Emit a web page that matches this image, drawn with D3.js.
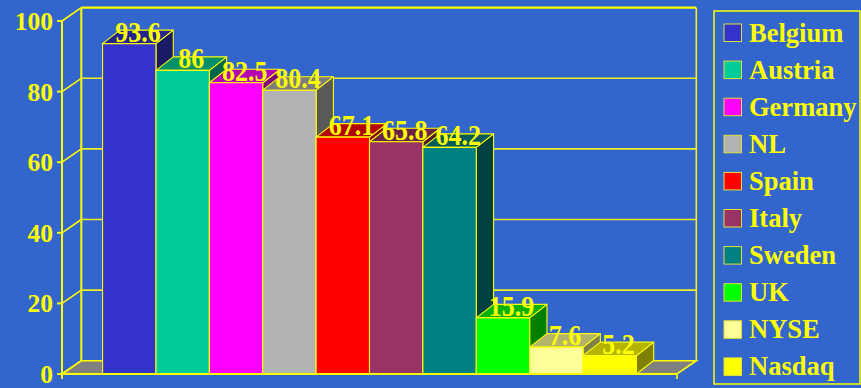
<!DOCTYPE html>
<html><head><meta charset="utf-8">
<script src="https://cdn.jsdelivr.net/npm/d3@7"></script>
<style>html,body{margin:0;padding:0;background:#3366CC;}svg{display:block;}</style>
</head><body>
<svg id="chart" width="861" height="388"></svg>
<script>
const categories = ["Belgium","Austria","Germany","NL","Spain","Italy","Sweden","UK","NYSE","Nasdaq"];
const values = [93.6, 86, 82.5, 80.4, 67.1, 65.8, 64.2, 15.9, 7.6, 5.2];
const colors = ["#3333CC","#00CC99","#FF00FF","#B2B2B2","#FF0000","#993366","#008080","#00FF00","#FFFF99","#FFFF00"];
const yTicks = [0, 20, 40, 60, 80, 100];

const W = 861, H = 388;
const YEL = "#FFFF00", GRID = "#F0F020";
const FONT = "'Liberation Serif','Times New Roman',serif";
const svg = d3.select("#chart");
svg.append("rect").attr("width", W).attr("height", H).attr("fill", "#3366CC");

const x0 = 62, x1 = 677;
const DX = 19.3, DY = -13.3;     // wall depth
const BDX = 17.3, BDY = -13.5;   // bar depth
const y = d3.scaleLinear().domain([0, 100]).range([374, 21]);
const x = d3.scaleBand().domain(categories).range([x0, x1]).paddingInner(0).paddingOuter(0.76);
const y0 = y(0);

const g = svg.append("g");
// floor
g.append("polygon")
  .attr("points", [[x0, y0], [x0 + DX, y0 + DY], [x1 + DX, y0 + DY], [x1, y0]].map(p => p.join(",")).join(" "))
  .attr("fill", "#808080").attr("stroke", YEL).attr("stroke-width", 1.6);

// back wall gridlines and side-wall diagonals
yTicks.forEach(t => {
  const yy = y(t);
  if (t > 0 && t < 100) {
    g.append("line").attr("x1", x0 + DX).attr("x2", x1 + DX).attr("y1", yy + DY).attr("y2", yy + DY)
      .attr("stroke", GRID).attr("stroke-width", 1.6);
  }
  g.append("line").attr("x1", x0).attr("y1", yy).attr("x2", x0 + DX).attr("y2", yy + DY)
    .attr("stroke", YEL).attr("stroke-width", 1.6);
});
// back wall frame
g.append("line").attr("x1", x0 + DX).attr("x2", x1 + DX).attr("y1", y(100) + DY).attr("y2", y(100) + DY)
  .attr("stroke", YEL).attr("stroke-width", 2.2);
g.append("line").attr("x1", x0 + DX).attr("x2", x0 + DX).attr("y1", y(100) + DY).attr("y2", y0 + DY)
  .attr("stroke", YEL).attr("stroke-width", 2);
g.append("line").attr("x1", x1 + DX).attr("x2", x1 + DX).attr("y1", y(100) + DY).attr("y2", y0 + DY)
  .attr("stroke", GRID).attr("stroke-width", 1.6);

// bars
const shade = (c, k) => { const r = d3.rgb(c); return d3.rgb(r.r * k, r.g * k, r.b * k).formatHex(); };
const bars = g.append("g");
categories.forEach((c, i) => {
  const bx = x(c), bw = x.bandwidth(), top = y(values[i]);
  const bg = bars.append("g").attr("stroke", YEL).attr("stroke-width", 1.1).attr("stroke-linejoin", "round");
  bg.append("polygon").attr("fill", shade(colors[i], 0.5))
    .attr("points", [[bx + bw, y0], [bx + bw + BDX, y0 + BDY], [bx + bw + BDX, top + BDY], [bx + bw, top]].map(p => p.join(",")).join(" "));
  bg.append("polygon").attr("fill", shade(colors[i], 0.7))
    .attr("points", [[bx, top], [bx + BDX, top + BDY], [bx + bw + BDX, top + BDY], [bx + bw, top]].map(p => p.join(",")).join(" "));
  bg.append("rect").attr("x", bx).attr("y", top).attr("width", bw).attr("height", y0 - top).attr("fill", colors[i]);
});

// front axis
const ax = svg.append("g");
ax.append("line").attr("x1", x0).attr("x2", x0).attr("y1", y(100)).attr("y2", y0 + 5).attr("stroke", YEL).attr("stroke-width", 2);
ax.append("line").attr("x1", x0 - 5).attr("x2", x1).attr("y1", y0).attr("y2", y0).attr("stroke", YEL).attr("stroke-width", 2);
ax.append("line").attr("x1", x1).attr("x2", x1).attr("y1", y0).attr("y2", y0 + 5).attr("stroke", YEL).attr("stroke-width", 1.6);
yTicks.forEach(t => {
  ax.append("line").attr("x1", x0 - 5).attr("x2", x0).attr("y1", y(t)).attr("y2", y(t)).attr("stroke", YEL).attr("stroke-width", 2);
  ax.append("text").attr("x", 53).attr("y", y(t) + 9).attr("text-anchor", "end")
    .attr("font-family", FONT).attr("font-weight", "bold").attr("font-size", 25.5).attr("fill", YEL).text(t);
});

// value labels
categories.forEach((c, i) => {
  const cx = x(c) + x.bandwidth() / 2 + BDX / 2, by = y(values[i]) - 2;
  svg.append("text").attr("transform", `translate(${cx},${by}) scale(1,1.1)`)
    .attr("text-anchor", "middle").attr("font-family", FONT).attr("font-weight", "bold")
    .attr("font-size", 26).attr("fill", YEL).text(values[i]);
});

// legend
const lg = svg.append("g");
lg.append("rect").attr("x", 714).attr("y", 11).attr("width", 146).attr("height", 373)
  .attr("fill", "none").attr("stroke", YEL).attr("stroke-width", 1.5);
categories.forEach((c, i) => {
  const ly = 24 + i * 37.1;
  lg.append("rect").attr("x", 724).attr("y", ly).attr("width", 17.5).attr("height", 17.5)
    .attr("fill", colors[i]).attr("stroke", "#E0E03A").attr("stroke-width", 1);
  lg.append("text").attr("x", 749).attr("y", ly + 17.5).attr("font-family", FONT).attr("font-weight", "bold")
    .attr("font-size", 26.5).attr("fill", YEL).text(c);
});
</script>
</body></html>
